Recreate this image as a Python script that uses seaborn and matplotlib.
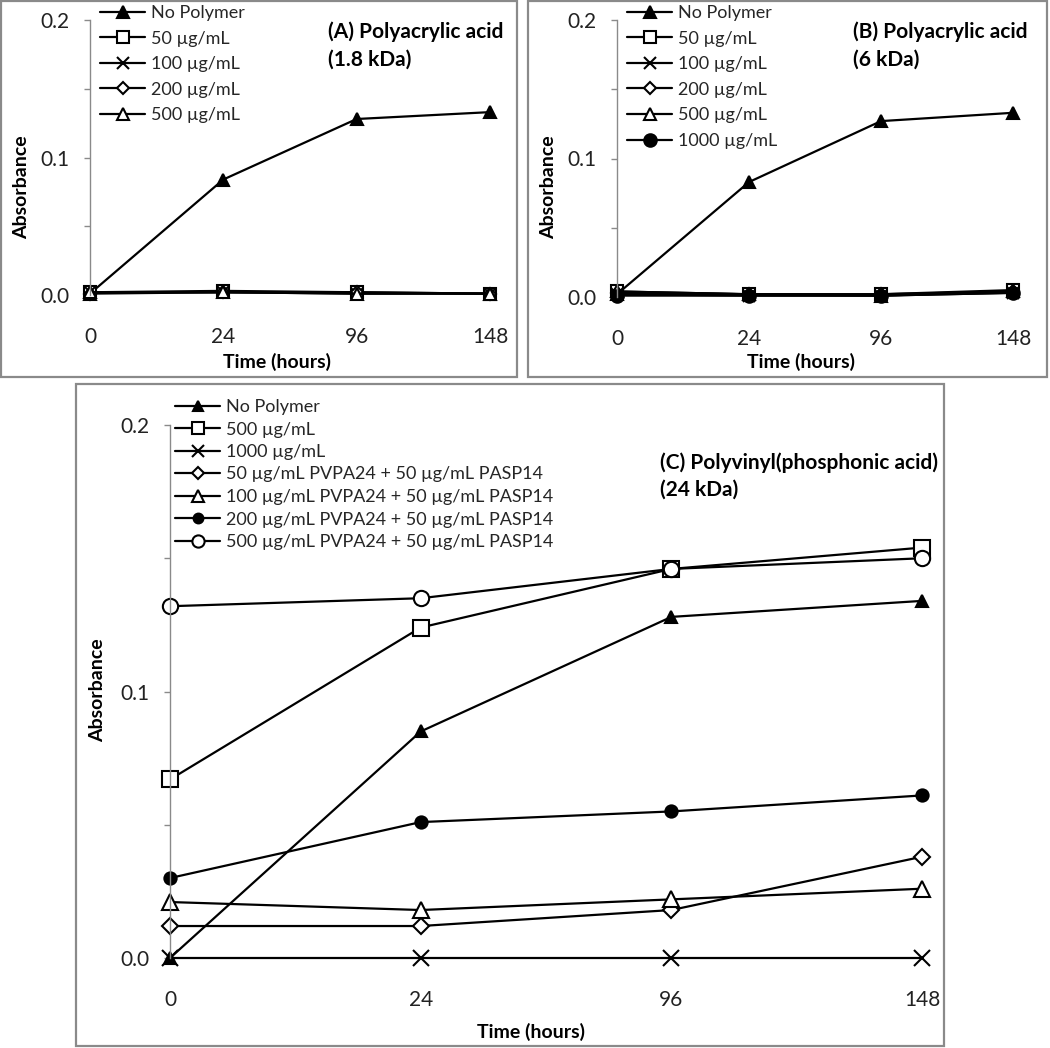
import matplotlib
matplotlib.use("Agg")
import matplotlib.pyplot as plt
import seaborn as sns
from matplotlib.patches import Rectangle
from matplotlib.ticker import FixedLocator, NullFormatter

# ---------------- data ----------------
times = ["0", "24", "96", "148"]

# (A) polyacrylic acid 1.8 kDa
a_labels = ["No Polymer", "50 µg/mL", "100 µg/mL", "200 µg/mL", "500 µg/mL"]
a_no_polymer = [0.001, 0.084, 0.128, 0.133]
a_50 = [0.002, 0.003, 0.002, 0.001]
a_100 = [0.002, 0.002, 0.001, 0.001]
a_200 = [0.001, 0.002, 0.002, 0.001]
a_500 = [0.002, 0.002, 0.001, 0.001]

# (B) polyacrylic acid 6 kDa
b_labels = ["No Polymer", "50 µg/mL", "100 µg/mL", "200 µg/mL", "500 µg/mL", "1000 µg/mL"]
b_no_polymer = [0.002, 0.083, 0.127, 0.133]
b_50 = [0.004, 0.002, 0.002, 0.005]
b_100 = [0.002, 0.001, 0.001, 0.003]
b_200 = [0.003, 0.002, 0.002, 0.004]
b_500 = [0.004, 0.002, 0.001, 0.004]
b_1000 = [0.001, 0.001, 0.001, 0.003]

# (C) polyvinyl(phosphonic acid) 24 kDa
c_labels = ["No Polymer", "500 µg/mL", "1000 µg/mL",
            "50 µg/mL PVPA24 + 50 µg/mL PASP14",
            "100 µg/mL PVPA24 + 50 µg/mL PASP14",
            "200 µg/mL PVPA24 + 50 µg/mL PASP14",
            "500 µg/mL PVPA24 + 50 µg/mL PASP14"]
c_no_polymer = [0.000, 0.085, 0.128, 0.134]
c_500 = [0.067, 0.124, 0.146, 0.154]
c_1000 = [0.000, 0.000, 0.000, 0.000]
c_pvpa50 = [0.012, 0.012, 0.018, 0.038]
c_pvpa100 = [0.021, 0.018, 0.022, 0.026]
c_pvpa200 = [0.030, 0.051, 0.055, 0.061]
c_pvpa500 = [0.132, 0.135, 0.146, 0.150]

# marker style per legend label
styles = {
    "No Polymer": dict(marker="^", mfc="black"),
    "50 µg/mL": dict(marker="s", mfc="white"),
    "100 µg/mL": dict(marker="x", mfc="black"),
    "200 µg/mL": dict(marker="D", mfc="white", ms_scale=0.7),
    "500 µg/mL": dict(marker="^", mfc="white"),
    "1000 µg/mL": dict(marker="o", mfc="black"),
}
c_styles = [
    dict(marker="^", mfc="black", ms_scale=0.85),
    dict(marker="s", mfc="white"),
    dict(marker="x", mfc="black"),
    dict(marker="D", mfc="white", ms_scale=0.7),
    dict(marker="^", mfc="white"),
    dict(marker="o", mfc="black", ms_scale=0.8),
    dict(marker="o", mfc="white"),
]

sns.set_style("white")
plt.rcParams["font.family"] = ["Lato", "DejaVu Sans"]

W, H = 1050, 1048
fig = plt.figure(figsize=(W / 100, H / 100), dpi=100)


def px_rect(l, t, r, b):
    return [l / W, 1 - b / H, (r - l) / W, (b - t) / H]


def draw_series(ax, vals, label, st, ms):
    sns.lineplot(x=times, y=vals, ax=ax, label=label, color="black",
                 linewidth=1.6, marker=st["marker"],
                 markersize=ms * st.get("ms_scale", 1.0),
                 markerfacecolor=st["mfc"], markeredgecolor="black",
                 markeredgewidth=1.5, clip_on=False, errorbar=None,
                 legend=False)


def style_axes(ax, right_units=3.05):
    ax.set_xlim(0, right_units)
    ax.set_ylim(0, 0.2)
    ax.set_xlabel("")
    ax.set_ylabel("")
    for s in ["top", "right", "bottom"]:
        ax.spines[s].set_visible(False)
    ax.spines["left"].set_color("#8a8a8a")
    ax.spines["left"].set_linewidth(1.0)
    ax.yaxis.set_major_locator(FixedLocator([0.0, 0.1, 0.2]))
    ax.yaxis.set_minor_locator(FixedLocator([0.05, 0.15]))
    ax.yaxis.set_minor_formatter(NullFormatter())
    ax.set_yticklabels(["0.0", "0.1", "0.2"])
    ax.tick_params(axis="y", which="both", direction="out", length=4,
                   color="#8a8a8a", width=1.0, labelsize=15, pad=11,
                   labelcolor="#222222")
    ax.tick_params(axis="x", length=0, labelsize=15, pad=23,
                   labelcolor="#222222")
    ax.tick_params(left=True, which="both")
    ax.set_facecolor("none")


def add_legend(ax, anchor_px, spacing, mscale=1.0):
    h, l = ax.get_legend_handles_labels()
    ax.legend(h, l, loc="upper left",
              bbox_to_anchor=(anchor_px[0] / W, 1 - anchor_px[1] / H),
              bbox_transform=fig.transFigure, frameon=False,
              borderpad=0, borderaxespad=0, handlelength=2.5,
              handletextpad=0.35, labelspacing=spacing, fontsize=13,
              markerscale=mscale)


# ---------------- panel A ----------------
axA = fig.add_axes(px_rect(90, 20, 90 + 400 * 3.05 / 3, 295))
for vals, lab in zip([a_no_polymer, a_50, a_100, a_200, a_500], a_labels):
    draw_series(axA, vals, lab, styles[lab], 9)
style_axes(axA)
add_legend(axA, (100, 5), 0.53)

# ---------------- panel B ----------------
axB = fig.add_axes(px_rect(617, 20, 617 + 396 * 3.05 / 3, 297))
for vals, lab in zip([b_no_polymer, b_50, b_100, b_200, b_500, b_1000], b_labels):
    draw_series(axB, vals, lab, styles[lab], 9)
style_axes(axB)
add_legend(axB, (627, 5), 0.53)

# ---------------- panel C ----------------
axC = fig.add_axes(px_rect(170, 425, 170 + 250.7 * 3.05, 958))
for vals, lab, st in zip([c_no_polymer, c_500, c_1000, c_pvpa50, c_pvpa100,
                          c_pvpa200, c_pvpa500], c_labels, c_styles):
    draw_series(axC, vals, lab, st, 11)
style_axes(axC)
add_legend(axC, (175, 399), 0.36, mscale=0.8)

# ---------------- labels & titles ----------------
bold = dict(fontsize=14, fontweight="bold", color="black")
title = dict(fontsize=15, fontweight="bold", color="black")
fig.text(328 / W, 1 - 32 / H, "(A) Polyacrylic acid", ha="left", va="center", **title)
fig.text(328 / W, 1 - 60 / H, "(1.8 kDa)", ha="left", va="center", **title)
fig.text(853 / W, 1 - 32 / H, "(B) Polyacrylic acid", ha="left", va="center", **title)
fig.text(853 / W, 1 - 60 / H, "(6 kDa)", ha="left", va="center", **title)
fig.text(660 / W, 1 - 463 / H, "(C) Polyvinyl(phosphonic acid)", ha="left", va="center", **title)
fig.text(660 / W, 1 - 490 / H, "(24 kDa)", ha="left", va="center", **title)

for (x, y) in [(22, 187), (549, 187), (98, 690)]:
    fig.text(x / W, 1 - y / H, "Absorbance", rotation=90, ha="center", va="center", **bold)
for (x, y) in [(277, 362), (801, 362), (531, 1032)]:
    fig.text(x / W, 1 - y / H, "Time (hours)", ha="center", va="center", **bold)

# gray panel frames
for (l, t, r, b) in [(1, 1, 517, 377), (528, 1, 1047, 377), (76, 384, 944, 1046)]:
    fig.add_artist(Rectangle((l / W, 1 - b / H), (r - l) / W, (b - t) / H,
                             transform=fig.transFigure, fill=False,
                             edgecolor="#8a8a8a", linewidth=1.6))

fig.savefig("out.png", dpi=100)
